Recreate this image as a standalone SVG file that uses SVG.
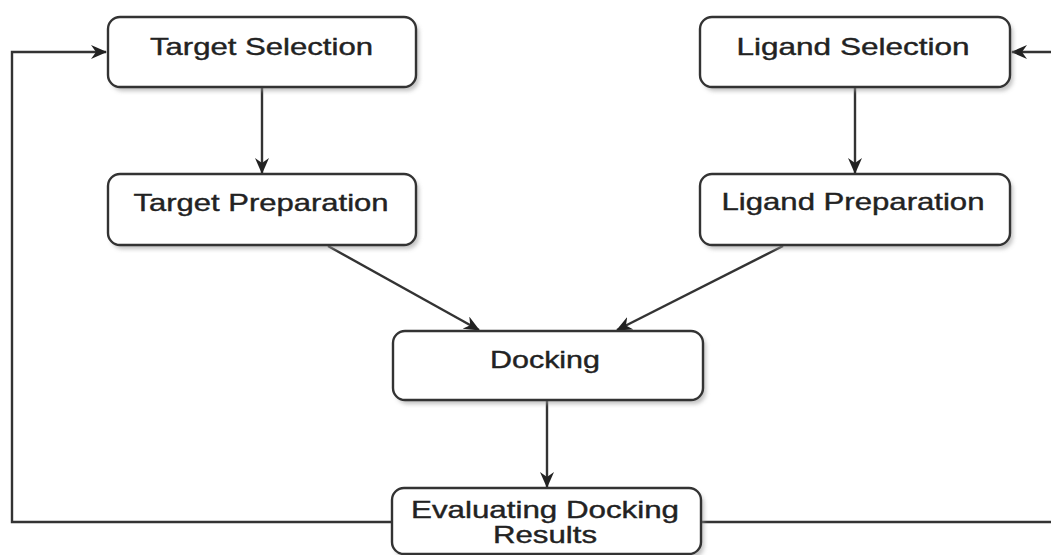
<svg xmlns="http://www.w3.org/2000/svg" width="1051" height="555" viewBox="0 0 1051 555">
<style>
.box{fill:#fff;stroke:#333;stroke-width:2.4}
.sh{fill:#999;opacity:0.6;filter:url(#blur)}
.lbl{font-family:"Liberation Sans",Arial,sans-serif;font-size:24px;fill:#222;stroke:#222;stroke-width:0.4;text-anchor:middle}
.con{fill:none;stroke:#333;stroke-width:2.4}
</style>
<defs>
<filter id="blur" x="-10%" y="-20%" width="120%" height="140%"><feGaussianBlur stdDeviation="2"/></filter>
<marker id="arr" viewBox="0 0 16 14" refX="15" refY="7" markerWidth="16" markerHeight="14" markerUnits="userSpaceOnUse" orient="auto">
<path d="M0,0 L16,7 L0,14 L5,7 Z" fill="#222"/>
</marker>
</defs>
<rect width="1051" height="555" fill="#fff"/>
<g id="connectors">
<path class="con" d="M392,522 H12 V52 H106" marker-end="url(#arr)"/>
<path class="con" d="M701,522 H1060 V52 H1012" marker-end="url(#arr)"/>
<path class="con" d="M262,88 V173" marker-end="url(#arr)"/>
<path class="con" d="M855,88 V173" marker-end="url(#arr)"/>
<path class="con" d="M328,246 L479,330" marker-end="url(#arr)"/>
<path class="con" d="M783,246 L617,330" marker-end="url(#arr)"/>
<path class="con" d="M547,401 V487" marker-end="url(#arr)"/>
</g>
<g id="target-selection">
<rect class="sh" x="111" y="21" width="308" height="70" rx="12"/>
<rect class="box" x="108" y="17" width="308" height="70" rx="12"/>
<text class="lbl" x="261.5" y="55" textLength="223" lengthAdjust="spacingAndGlyphs">Target Selection</text>
</g>
<g id="ligand-selection">
<rect class="sh" x="703" y="21" width="310" height="70" rx="12"/>
<rect class="box" x="700" y="17" width="310" height="70" rx="12"/>
<text class="lbl" x="853" y="55" textLength="233" lengthAdjust="spacingAndGlyphs">Ligand Selection</text>
</g>
<g id="target-preparation">
<rect class="sh" x="111" y="178" width="308" height="71" rx="12"/>
<rect class="box" x="108" y="174" width="308" height="71" rx="12"/>
<text class="lbl" x="261" y="211" textLength="255" lengthAdjust="spacingAndGlyphs">Target Preparation</text>
</g>
<g id="ligand-preparation">
<rect class="sh" x="703" y="178" width="310" height="71" rx="12"/>
<rect class="box" x="700" y="174" width="310" height="71" rx="12"/>
<text class="lbl" x="853" y="210" textLength="263" lengthAdjust="spacingAndGlyphs">Ligand Preparation</text>
</g>
<g id="docking">
<rect class="sh" x="396" y="335" width="310" height="69" rx="12"/>
<rect class="box" x="393" y="331" width="310" height="69" rx="12"/>
<text class="lbl" x="545" y="368" textLength="110" lengthAdjust="spacingAndGlyphs">Docking</text>
</g>
<g id="evaluating-docking-results">
<rect class="sh" x="395" y="492" width="309" height="66" rx="12"/>
<rect class="box" x="392" y="488" width="309" height="66" rx="12"/>
<text class="lbl" x="545" y="518" textLength="268" lengthAdjust="spacingAndGlyphs">Evaluating Docking</text>
<text class="lbl" x="545" y="543" textLength="104" lengthAdjust="spacingAndGlyphs">Results</text>
</g>
</svg>
